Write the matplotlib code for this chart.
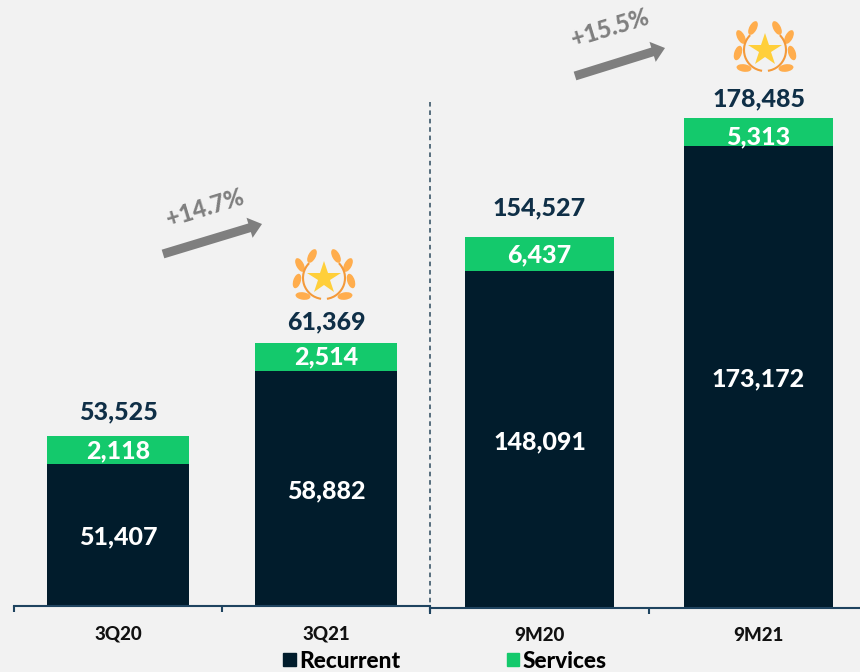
import matplotlib
matplotlib.use('Agg')
import matplotlib.pyplot as plt
from matplotlib.patches import Arc, Ellipse, FancyArrow, Patch

plt.rcParams['font.family'] = ['Lato', 'DejaVu Sans']

W, H = 860, 672
BG = '#f2f2f2'
NAVY = '#011c2c'
GREEN = '#14c96c'
LABEL = '#0f2f47'
AXIS = '#1f4460'
GREY = '#7f7f7f'
HEAVY = 900

# the bars in the source are not to scale, so the drawn heights are read
# off the picture and the printed numbers are kept apart
cats_q = ['3Q20', '3Q21']
recurrent_q = ['51,407', '58,882']
services_q = ['2,118', '2,514']
totals_q = ['53,525', '61,369']
recurrent_h_q = [142, 235]
services_h_q = [28, 28]

cats_m = ['9M20', '9M21']
recurrent_m = ['148,091', '173,172']
services_m = ['6,437', '5,313']
totals_m = ['154,527', '178,485']
recurrent_h_m = [337, 462]
services_h_m = [34, 28]


def px_axes(fig, left, right, base):
    ax = fig.add_axes([left / W, 1 - base / H, (right - left) / W, base / H])
    ax.set_xlim(-0.5, 1.5)
    ax.set_ylim(0, base)
    ax.patch.set_alpha(0)
    for s in ['top', 'left', 'right']:
        ax.spines[s].set_visible(False)
    ax.spines['bottom'].set_color(AXIS)
    ax.spines['bottom'].set_linewidth(1.5)
    ax.yaxis.set_visible(False)
    return ax


def draw_panel(ax, cats, rec_h, srv_h, rec, srv, tot, width, total_off, srv_off):
    xs = range(len(cats))
    ax.bar(xs, rec_h, width, color=NAVY)
    ax.bar(xs, srv_h, width, bottom=rec_h, color=GREEN)
    for i in xs:
        ax.text(i, rec_h[i] / 2 - 2, rec[i], color='white', fontsize=18,
                fontweight=HEAVY, ha='center', va='center')
        ax.text(i, rec_h[i] + srv_h[i] / 2 - srv_off[i], srv[i], color='white',
                fontsize=18, fontweight=HEAVY, ha='center', va='center')
        ax.text(i, rec_h[i] + srv_h[i] + total_off[i], tot[i], color=LABEL,
                fontsize=18, fontweight=HEAVY, ha='center', va='center')
    ax.set_xticks([-0.5, 0.5, 1.5])
    ax.set_xticklabels([])
    ax.tick_params(axis='x', which='major', length=4.5, width=1.5, color=AXIS)
    ax.set_xticks(list(xs), minor=True)
    ax.set_xticklabels(cats, minor=True, fontsize=13.5, fontweight=HEAVY, color='#111111')
    ax.tick_params(axis='x', which='minor', length=0, pad=14)


def laurel(ax, cx, cy):
    # leaves are given for the left side and mirrored
    leaves = [(-12, -22, -62), (-24, -13, 62), (-27, 3, -72), (-21, 18, 8)]
    for dx, dy, ang in leaves:
        ax.add_patch(Ellipse((cx + dx, cy + dy), 15, 7.5, angle=ang, color='#ffad4d', lw=0))
        ax.add_patch(Ellipse((cx - dx, cy + dy), 15, 7.5, angle=-ang, color='#ffad4d', lw=0))
    ax.add_patch(Arc((cx, cy), 42, 42, theta1=98, theta2=225, color='#f49a3a', lw=1.5))
    ax.add_patch(Arc((cx, cy), 42, 42, theta1=-45, theta2=82, color='#f49a3a', lw=1.5))
    ax.plot([cx], [cy], marker='*', ms=25, color='#ffcf3a', mew=0)


def trend(ax, x0, y0, x1, y1, txt, tx, ty, rot):
    ax.add_patch(FancyArrow(x0, y0, x1 - x0, y1 - y0, width=9, head_width=21,
                            head_length=13, length_includes_head=True, color=GREY, lw=0))
    ax.text(tx, ty, txt, color=GREY, fontsize=17, fontweight=HEAVY, rotation=rot,
            ha='center', va='center')


fig = plt.figure(figsize=(W / 100, H / 100), dpi=100, facecolor=BG)

ax_q = px_axes(fig, 14, 430, 606)
draw_panel(ax_q, cats_q, recurrent_h_q, services_h_q, recurrent_q, services_q, totals_q,
           0.683, [24, 21], [1, 0])
ax_m = px_axes(fig, 430, 868, 608)
draw_panel(ax_m, cats_m, recurrent_h_m, services_h_m, recurrent_m, services_m, totals_m,
           0.68, [29, 19], [1, 5])

# overlay in pixel coordinates for the decorations
top = fig.add_axes([0, 0, 1, 1], zorder=5)
top.set_xlim(0, W)
top.set_ylim(H, 0)
top.axis('off')
top.plot([430, 430], [102, 606], color='#2c4a5e', lw=1.1, ls=(0, (3, 2.5)))
laurel(top, 324, 278)
laurel(top, 765, 50)
trend(top, 163, 254, 262, 224, '+14.7%', 205, 208, 17)
trend(top, 575, 76, 665, 48, '+15.5%', 610, 28, 17)

fig.legend(handles=[Patch(color=NAVY, label='Recurrent'), Patch(color=GREEN, label='Services')],
           loc='lower left', bbox_to_anchor=(263 / W, -20 / H), ncol=2, frameon=False,
           handlelength=0.55, handleheight=0.55, handletextpad=0.15,
           columnspacing=4.7, prop={'weight': HEAVY, 'size': 16.3})

fig.savefig('out.png', dpi=100, facecolor=BG)
